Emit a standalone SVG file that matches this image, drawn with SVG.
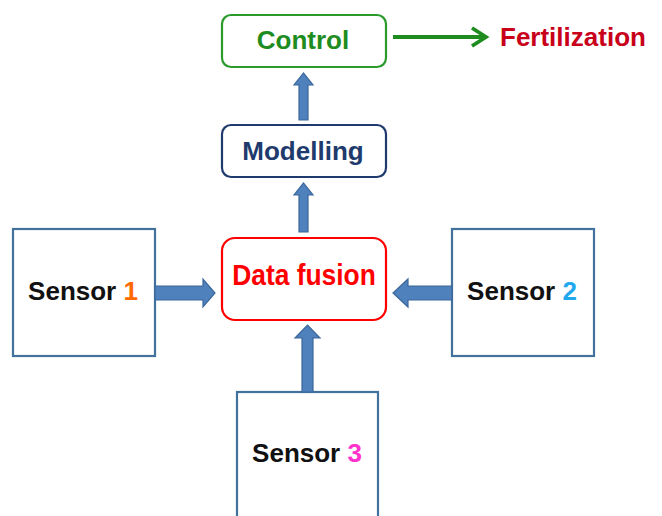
<svg xmlns="http://www.w3.org/2000/svg" width="662" height="516" viewBox="0 0 662 516">
<style>
.t{font-family:"Liberation Sans",Arial,sans-serif;font-weight:bold}
.sensor{fill:#fff;stroke:#41719c;stroke-width:2.2}
.barrow{fill:#4f81bd;stroke:#3b679b;stroke-width:1.2}
</style>
<rect width="662" height="516" fill="#fff"/>
<g id="control">
<rect x="222" y="15" width="164" height="52" rx="9" fill="#fff" stroke="#2a9a2a" stroke-width="2.2"/>
<text class="t" x="303" y="49" font-size="26" fill="#1e8c1e" text-anchor="middle">Control</text>
</g>
<g id="fertilization">
<text class="t" x="500" y="46" font-size="26" fill="#c8001a">Fertilization</text>
</g>
<g id="modelling">
<rect x="222" y="125" width="164" height="52" rx="9" fill="#fff" stroke="#1f3b6e" stroke-width="2.2"/>
<text class="t" x="303" y="160" font-size="26" fill="#1f3b6e" text-anchor="middle">Modelling</text>
</g>
<g id="datafusion">
<rect x="222" y="238" width="164" height="82" rx="13" fill="#fff" stroke="#ff0000" stroke-width="2.2"/>
<text class="t" x="0" y="0" font-size="30" fill="#ff0000" text-anchor="middle" transform="translate(304 285) scale(0.88 1)">Data fusion</text>
</g>
<g id="sensor1">
<rect class="sensor" x="13" y="229" width="142" height="127"/>
<text class="t" x="83" y="300" font-size="26" fill="#111" text-anchor="middle">Sensor <tspan fill="#ff6a00">1</tspan></text>
</g>
<g id="sensor2">
<rect class="sensor" x="452" y="229" width="142" height="127"/>
<text class="t" x="522" y="300" font-size="26" fill="#111" text-anchor="middle">Sensor <tspan fill="#1fa8ee">2</tspan></text>
</g>
<g id="sensor3">
<rect class="sensor" x="237" y="392" width="141" height="130"/>
<text class="t" x="307" y="462" font-size="26" fill="#111" text-anchor="middle">Sensor <tspan fill="#ff33cc">3</tspan></text>
</g>
<g id="connectors">
<path class="barrow" d="M299 120 V85 H294 L303.5 73 L313 85 H308 V120 Z"/>
<path class="barrow" d="M299 232 V195 H294 L303.5 183 L313 195 H308 V232 Z"/>
<path class="barrow" d="M302 392 V338 H295 L307.5 325 L320 338 H313 V392 Z"/>
<path class="barrow" d="M155 286 H203 V279 L215 293 L203 307 V300 H155 Z"/>
<path class="barrow" d="M452 286 H408 V279 L393 293 L408 307 V300 H452 Z"/>
<g fill="none" stroke="#1e8c1e" stroke-width="3.8">
<line x1="393" y1="37" x2="484" y2="37"/>
<polyline points="472,28 486,37 472,46" stroke-linejoin="miter"/>
</g>
</g>
</svg>
